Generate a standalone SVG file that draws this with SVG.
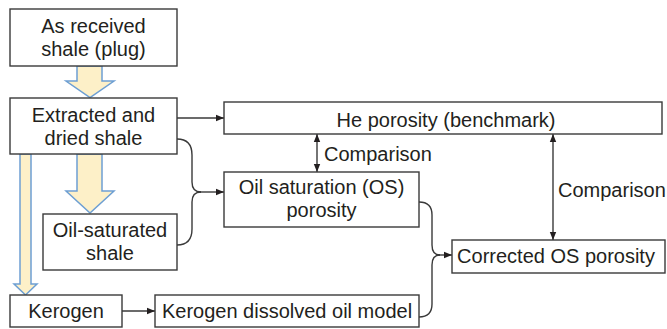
<svg xmlns="http://www.w3.org/2000/svg" width="667" height="329" viewBox="0 0 667 329">
<defs>
<style>
.box{fill:#fff;stroke:#3a3a3a;stroke-width:1.4}
.t{font-family:"Liberation Sans",Arial,sans-serif;font-size:20px;fill:#231f20;text-anchor:middle}
.tl{font-family:"Liberation Sans",Arial,sans-serif;font-size:20px;fill:#231f20}
.c{fill:none;stroke:#3a3a3a;stroke-width:1.4}
.fat{fill:#fdf0c8;stroke:#6d9fd3;stroke-width:1.5;stroke-linejoin:miter}
</style>
<marker id="ah" viewBox="0 0 10 10" refX="10" refY="5" markerWidth="8" markerHeight="8" markerUnits="userSpaceOnUse" orient="auto-start-reverse">
<path d="M0,1 L10,5 L0,9 Z" fill="#231f20"/>
</marker>
</defs>
<rect width="667" height="329" fill="#fff"/>
<g id="fat-arrows">
<path class="fat" d="M77,66 L102,66 L102,81 L114,81 L90,97.5 L66,81 L77,81 Z"/>
<path class="fat" d="M77,154 L102,154 L102,191 L114,191 L90,213 L66,191 L77,191 Z"/>
<path class="fat" d="M20,154 L31,154 L31,284 L37,284 L25.5,295 L14,284 L20,284 Z"/>
</g>
<g id="connectors">
<line class="c" x1="177" y1="118" x2="224" y2="118" marker-end="url(#ah)"/>
<line class="c" x1="317" y1="134" x2="317" y2="172" marker-start="url(#ah)" marker-end="url(#ah)"/>
<line class="c" x1="553" y1="134" x2="553" y2="240" marker-start="url(#ah)" marker-end="url(#ah)"/>
<path class="c" d="M177,139 C188,139 192,145 192,155 L192,182 C192,189 195,192 201,192"/>
<path class="c" d="M177,245 C188,245 192,239 192,229 L192,202 C192,195 195,192 201,192"/>
<line class="c" x1="200" y1="192" x2="224" y2="192" marker-end="url(#ah)"/>
<line class="c" x1="122" y1="311" x2="155" y2="311" marker-end="url(#ah)"/>
<path class="c" d="M419,202 C428,202 432,207 432,215 L432,245 C432,251 434,255 440,255"/>
<path class="c" d="M419,317 C428,317 432,312 432,304 L432,265 C432,259 434,255 440,255"/>
<line class="c" x1="438" y1="255" x2="452" y2="255" marker-end="url(#ah)"/>
</g>
<g id="as-received">
<rect class="box" x="10" y="9" width="167" height="57"/>
<text class="t" x="93.5" y="33">As received</text>
<text class="t" x="93.5" y="56">shale (plug)</text>
</g>
<g id="extracted">
<rect class="box" x="10" y="98" width="167" height="56"/>
<text class="t" x="93.5" y="122">Extracted and</text>
<text class="t" x="93.5" y="145">dried shale</text>
</g>
<g id="oil-saturated">
<rect class="box" x="43" y="214" width="134" height="56"/>
<text class="t" x="110" y="237">Oil-saturated</text>
<text class="t" x="110" y="260">shale</text>
</g>
<g id="kerogen">
<rect class="box" x="10" y="295" width="112" height="32"/>
<text class="t" x="66" y="318">Kerogen</text>
</g>
<g id="kdom">
<rect class="box" x="155" y="295" width="264" height="32"/>
<text class="t" x="287" y="318">Kerogen dissolved oil model</text>
</g>
<g id="he">
<rect class="box" x="224" y="102" width="438" height="32"/>
<text class="t" x="446" y="127">He porosity (benchmark)</text>
</g>
<g id="os">
<rect class="box" x="224" y="172" width="195" height="55"/>
<text class="t" x="321.5" y="194">Oil saturation (OS)</text>
<text class="t" x="321.5" y="217">porosity</text>
</g>
<g id="corrected">
<rect class="box" x="452" y="240" width="213" height="33"/>
<text class="t" x="556" y="263">Corrected OS porosity</text>
</g>
<g id="labels">
<text class="tl" x="324" y="161">Comparison</text>
<text class="tl" x="558" y="197">Comparison</text>
</g>
</svg>
